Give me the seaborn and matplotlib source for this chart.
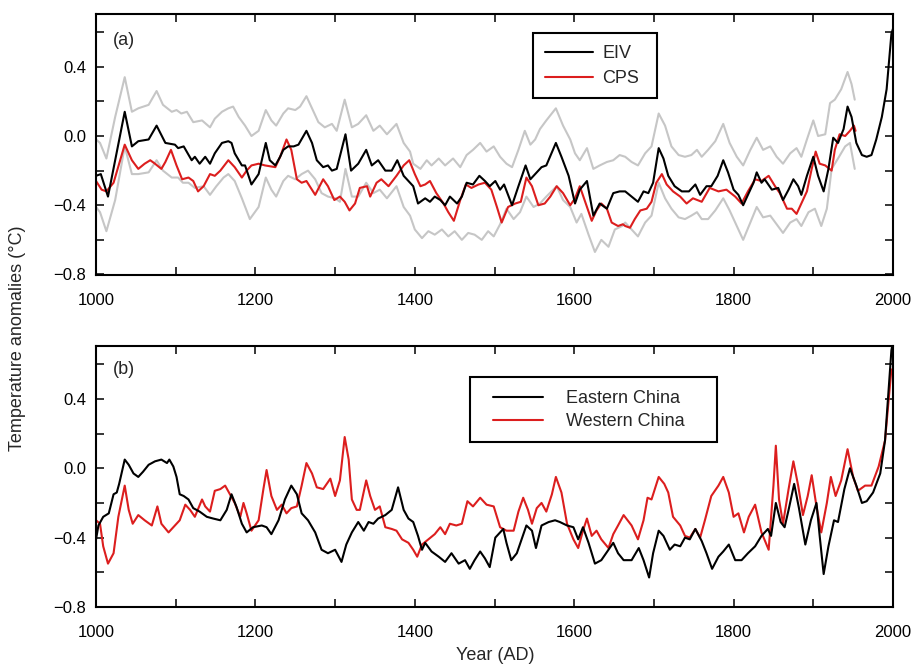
import matplotlib
matplotlib.use("Agg")
import matplotlib.pyplot as plt
from matplotlib.patches import Rectangle
from matplotlib.ticker import MultipleLocator, FixedLocator
import seaborn as sns
import pandas as pd

# ---------------- Panel (a) data ----------------
eiv_years = [1000,1006,1015,1036,1045,1053,1066,1076,1087,1099,1103,1110,1120,1124,1130,1137,1143,1149,1158,1166,
             1170,1174,1183,1187,1195,1204,1213,1218,1225,1231,1235,1241,1248,1254,1264,1271,1277,1285,1291,1296,
             1302,1313,1320,1329,
             1339,1346,1354,1363,1371,1378,1386,1394,1398,1404,1413,1419,1425,1432,1438,1444,1453,1459,1465,1473,
             1481,1488,1494,1501,1507,1512,1522,1530,1539,1545,1551,1559,1565,1577,1584,1593,1601,1607,1616,1624,
             1632,1641,1649,1657,
             1664,1672,1680,1687,1693,1699,1706,1712,1718,1726,1735,1744,1752,1758,1766,1772,1780,1787,1793,1800,
             1806,1812,1818,1825,1829,1835,1839,1848,1856,1862,1869,1875,1881,1885,1892,1900,1906,1913,1919,1925,
             1931,1938,1943,1948,1954,1961,1967,1973,1979,1986,1992,1998,2000]
eiv_vals = [-0.23,-0.22,-0.35,0.14,-0.06,-0.03,-0.02,0.06,-0.04,-0.05,-0.07,-0.06,-0.14,-0.12,-0.16,-0.12,-0.16,-0.10,-0.04,-0.03,
            -0.04,-0.10,-0.17,-0.17,-0.28,-0.22,-0.04,-0.14,-0.17,-0.12,-0.08,-0.06,-0.06,-0.05,0.03,-0.04,-0.14,-0.18,-0.17,-0.20,
            -0.19,0.01,-0.20,-0.16,
            -0.08,-0.17,-0.14,-0.20,-0.20,-0.14,-0.23,-0.27,-0.29,-0.39,-0.36,-0.38,-0.35,-0.37,-0.40,-0.35,-0.39,-0.35,-0.27,-0.28,
            -0.23,-0.26,-0.29,-0.26,-0.31,-0.28,-0.40,-0.29,-0.17,-0.25,-0.22,-0.18,-0.17,-0.04,-0.12,-0.23,-0.39,-0.31,-0.26,-0.46,
            -0.39,-0.42,-0.33,-0.32,
            -0.32,-0.35,-0.38,-0.32,-0.33,-0.27,-0.07,-0.13,-0.23,-0.29,-0.32,-0.32,-0.28,-0.34,-0.29,-0.29,-0.23,-0.14,-0.21,-0.31,
            -0.34,-0.40,-0.34,-0.27,-0.21,-0.27,-0.25,-0.31,-0.30,-0.37,-0.31,-0.25,-0.29,-0.34,-0.23,-0.12,-0.23,-0.32,-0.19,-0.01,
            -0.04,0.04,0.17,0.11,-0.04,-0.11,-0.12,-0.11,-0.02,0.11,0.27,0.59,0.62]

cps_years = [1000,1007,1013,1022,1036,1045,1053,1061,1068,1074,1082,1087,1094,1101,1108,1116,1122,1128,1135,1143,
             1149,1156,1166,1174,1183,1189,1195,1204,1212,1225,1231,1239,1245,1252,1258,1264,1275,1285,1291,1299,
             1306,1312,1318,1325,
             1331,1340,1344,1352,1358,1367,1377,1386,1393,1400,1407,1413,1419,1427,1436,1442,1449,1457,1464,1471,
             1480,1488,1496,1503,1509,1517,1526,1533,1540,1547,1555,1563,1570,1578,1586,1595,1601,1607,1613,1622,
             1628,1634,1641,1647,1655,1661,
             1664,1670,1676,1683,1691,1697,1703,1710,1716,1724,1733,1741,1749,1760,1770,1781,1791,1802,1810,1818,
             1827,1835,1844,1852,1858,1867,1873,1879,1885,1892,1898,1903,1908,1915,1923,1927,1933,1940,1946,1951,
             1953]
cps_vals = [-0.26,-0.31,-0.32,-0.27,-0.05,-0.14,-0.19,-0.16,-0.14,-0.16,-0.19,-0.15,-0.08,-0.17,-0.25,-0.24,-0.26,-0.32,-0.29,-0.22,
            -0.23,-0.20,-0.14,-0.18,-0.24,-0.20,-0.17,-0.16,-0.17,-0.18,-0.12,-0.02,-0.08,-0.25,-0.27,-0.26,-0.34,-0.25,-0.29,-0.37,
            -0.35,-0.38,-0.43,-0.39,
            -0.30,-0.29,-0.35,-0.27,-0.25,-0.29,-0.23,-0.17,-0.14,-0.22,-0.29,-0.28,-0.26,-0.33,-0.39,-0.44,-0.49,-0.37,-0.28,-0.30,
            -0.28,-0.27,-0.31,-0.41,-0.50,-0.41,-0.39,-0.38,-0.24,-0.29,-0.40,-0.39,-0.35,-0.29,-0.33,-0.40,-0.36,-0.29,-0.37,-0.49,
            -0.43,-0.39,-0.42,-0.50,-0.52,-0.51,
            -0.52,-0.53,-0.48,-0.43,-0.42,-0.38,-0.27,-0.22,-0.28,-0.32,-0.35,-0.39,-0.36,-0.38,-0.30,-0.32,-0.31,-0.35,-0.39,-0.32,
            -0.25,-0.26,-0.23,-0.29,-0.33,-0.42,-0.42,-0.45,-0.39,-0.32,-0.19,-0.09,-0.16,-0.17,-0.20,-0.08,0.01,0.00,0.03,0.06,
            0.03]

upper_years = [1000,1005,1013,1024,1036,1045,1053,1066,1076,1084,1095,1101,1107,1114,1122,1133,1143,1149,1158,1166,
               1172,1179,1187,1195,1204,1213,1220,1226,1235,1241,1250,1256,1264,1271,1279,1287,1296,1302,1312,1321,
               1329,
               1339,1348,1356,1365,1377,1386,1394,1398,1407,1415,1421,1430,1438,1448,1457,1465,1473,1482,1490,1499,
               1507,1515,1522,1530,1538,1545,1551,1557,1565,1577,1586,1595,1601,1607,1616,1624,1632,1641,1649,1657,
               1664,1672,1680,1689,1697,1706,1714,1722,1731,1739,1747,1754,1760,1768,1777,1787,1795,1804,1812,1821,
               1829,1837,1846,1854,1862,1871,1879,1885,1892,1900,1906,1915,1921,1927,1935,1943,1948,1952]
upper_vals = [-0.02,-0.04,-0.13,0.11,0.34,0.14,0.16,0.18,0.26,0.18,0.14,0.15,0.13,0.14,0.08,0.09,0.05,0.10,0.14,0.16,
              0.17,0.11,0.06,0.00,0.03,0.15,0.09,0.06,0.13,0.16,0.15,0.17,0.23,0.16,0.08,0.05,0.07,0.03,0.21,0.05,
              0.07,
              0.12,0.03,0.06,0.01,0.07,-0.04,-0.09,-0.16,-0.19,-0.14,-0.17,-0.13,-0.17,-0.13,-0.18,-0.11,-0.08,-0.04,-0.09,-0.06,
              -0.12,-0.16,-0.18,-0.08,0.03,-0.05,-0.02,0.04,0.09,0.16,0.06,-0.02,-0.10,-0.14,-0.07,-0.19,-0.17,-0.15,-0.14,-0.11,
              -0.12,-0.15,-0.17,-0.10,-0.06,0.13,0.06,-0.06,-0.11,-0.12,-0.11,-0.08,-0.12,-0.08,-0.03,0.07,-0.04,-0.12,-0.17,-0.08,
              -0.01,-0.08,-0.06,-0.12,-0.16,-0.10,-0.07,-0.12,-0.02,0.09,0.00,0.01,0.19,0.21,0.27,0.37,0.30,0.21]

lower_years = [1000,1005,1013,1024,1036,1045,1053,1066,1076,1084,1095,1103,1109,1116,1124,1135,1143,1151,1160,1166,
               1174,1183,1193,1204,1213,1220,1226,1235,1241,1250,1258,1266,1275,1283,1291,1300,1306,1313,1321,1329,
               1339,1348,1356,1365,1377,1386,1394,1400,1409,1417,1425,1434,1442,1450,1459,1467,1475,1484,1492,1499,
               1507,1515,1524,1532,1540,1549,1557,1565,1578,1586,1595,1603,1609,1618,1626,1634,1643,1651,1660,
               1664,1672,1680,1689,1697,1706,1714,1722,1731,1739,1747,1754,1760,1768,1777,1787,1795,1804,1812,1821,
               1829,1837,1846,1854,1862,1871,1879,1885,1894,1902,1910,1917,1923,1931,1940,1946,1952]
lower_vals = [-0.41,-0.44,-0.55,-0.37,-0.06,-0.22,-0.22,-0.21,-0.14,-0.20,-0.24,-0.24,-0.27,-0.27,-0.30,-0.29,-0.34,-0.29,-0.24,-0.22,
              -0.26,-0.36,-0.48,-0.41,-0.24,-0.31,-0.35,-0.26,-0.23,-0.25,-0.22,-0.20,-0.25,-0.33,-0.35,-0.36,-0.38,-0.19,-0.35,-0.35,
              -0.27,-0.33,-0.31,-0.36,-0.29,-0.41,-0.46,-0.54,-0.59,-0.55,-0.57,-0.54,-0.58,-0.55,-0.60,-0.56,-0.57,-0.60,-0.55,-0.58,
              -0.51,-0.42,-0.48,-0.44,-0.35,-0.41,-0.39,-0.35,-0.29,-0.37,-0.41,-0.50,-0.45,-0.57,-0.67,-0.60,-0.64,-0.54,-0.52,
              -0.50,-0.54,-0.58,-0.50,-0.46,-0.27,-0.36,-0.42,-0.47,-0.48,-0.46,-0.44,-0.48,-0.48,-0.43,-0.36,-0.43,-0.52,-0.60,-0.50,
              -0.41,-0.47,-0.46,-0.51,-0.56,-0.50,-0.48,-0.52,-0.44,-0.42,-0.52,-0.42,-0.19,-0.13,-0.06,-0.04,-0.19]

# ---------------- Panel (b) data ----------------
east_years = [1000,1003,1009,1016,1022,1026,1029,1036,1041,1047,1053,1059,1066,1074,1082,1089,1092,1097,1101,1105,
              1110,1116,1122,1130,1139,1147,1156,1164,1170,1176,1183,1189,1197,1208,1214,1220,1229,1237,1245,1252,
              1258,1266,1275,1283,1291,1300,1308,1314,1321,1329,
              1336,1342,1348,1354,1363,1371,1379,1386,1392,1398,1404,1409,1413,1421,1430,1438,1446,1455,1463,1469,
              1475,1482,1488,1494,1501,1507,1511,1515,1521,1528,1534,1540,1547,1552,1559,1568,1576,1582,1591,1599,
              1605,1611,1618,1626,1634,1643,1649,1655,1662,
              1672,1681,1687,1694,1699,1706,1712,1720,1726,1733,1739,1745,1752,1760,1766,1773,1781,1787,1794,1802,
              1810,1818,1827,1835,1843,1847,1853,1859,1864,1869,1876,1882,1890,1897,1904,1908,1913,1919,1926,1931,
              1939,1946,1954,1961,1967,1975,1984,1990,1996,1998,2000]
east_vals = [-0.41,-0.33,-0.28,-0.26,-0.15,-0.14,-0.09,0.05,0.02,-0.03,-0.05,-0.02,0.02,0.04,0.05,0.03,0.05,0.01,-0.05,-0.15,
             -0.16,-0.18,-0.23,-0.25,-0.28,-0.29,-0.30,-0.24,-0.15,-0.22,-0.32,-0.37,-0.34,-0.33,-0.34,-0.38,-0.30,-0.18,-0.10,-0.15,
             -0.26,-0.30,-0.37,-0.47,-0.49,-0.47,-0.54,-0.44,-0.37,-0.31,
             -0.36,-0.31,-0.32,-0.29,-0.27,-0.24,-0.11,-0.24,-0.29,-0.31,-0.39,-0.47,-0.43,-0.48,-0.51,-0.54,-0.49,-0.55,-0.53,-0.58,
             -0.53,-0.48,-0.52,-0.57,-0.40,-0.37,-0.35,-0.43,-0.53,-0.49,-0.41,-0.33,-0.36,-0.46,-0.33,-0.31,-0.30,-0.31,-0.33,-0.34,
             -0.41,-0.34,-0.43,-0.55,-0.53,-0.47,-0.43,-0.49,-0.53,
             -0.53,-0.46,-0.53,-0.63,-0.49,-0.36,-0.39,-0.47,-0.44,-0.45,-0.40,-0.41,-0.35,-0.42,-0.49,-0.58,-0.51,-0.48,-0.44,-0.53,
             -0.53,-0.49,-0.45,-0.39,-0.35,-0.39,-0.20,-0.31,-0.34,-0.24,-0.09,-0.23,-0.44,-0.30,-0.20,-0.39,-0.61,-0.45,-0.30,-0.31,
             -0.12,0.00,-0.10,-0.20,-0.19,-0.14,-0.03,0.16,0.55,0.68,0.73]

west_years = [1000,1005,1009,1015,1022,1028,1036,1041,1046,1053,1061,1070,1077,1082,1091,1099,1105,1112,1118,1124,
              1133,1137,1143,1149,1156,1162,1168,1174,1181,1185,1189,1195,1204,1210,1214,1220,1227,1233,1239,1245,
              1252,1258,1264,1271,1277,1285,1294,1300,1306,1312,1317,1321,1327,1331,
              1339,1344,1350,1356,1363,1371,1377,1384,1392,1398,1403,1409,1417,1425,1432,1438,1444,1452,1459,1466,
              1473,1482,1490,1499,1507,1515,1524,1530,1536,1542,1547,1553,1559,1565,1572,1577,1584,1591,1599,1605,
              1611,1616,1622,1628,1634,1643,1649,1655,1662,
              1672,1680,1687,1692,1697,1706,1713,1718,1724,1733,1739,1745,1752,1758,1764,1772,1781,1787,1794,1800,
              1806,1813,1819,1827,1835,1844,1850,1853,1857,1862,1869,1875,1881,1887,1893,1898,1904,1910,1917,1922,
              1928,1935,1943,1950,1956,1965,1973,1982,1990,1998]
west_vals = [-0.30,-0.32,-0.45,-0.55,-0.49,-0.28,-0.10,-0.24,-0.32,-0.27,-0.30,-0.33,-0.22,-0.32,-0.37,-0.33,-0.30,-0.21,-0.24,-0.28,
             -0.18,-0.22,-0.25,-0.13,-0.12,-0.10,-0.15,-0.20,-0.28,-0.20,-0.26,-0.36,-0.30,-0.12,-0.01,-0.16,-0.24,-0.21,-0.26,-0.23,
             -0.22,-0.10,0.03,-0.03,-0.11,-0.12,-0.06,-0.16,-0.07,0.18,0.05,-0.18,-0.24,-0.24,
             -0.07,-0.16,-0.24,-0.22,-0.34,-0.35,-0.36,-0.41,-0.43,-0.47,-0.51,-0.44,-0.41,-0.38,-0.34,-0.38,-0.32,-0.33,-0.32,-0.19,
             -0.22,-0.17,-0.21,-0.22,-0.34,-0.36,-0.36,-0.25,-0.17,-0.24,-0.32,-0.23,-0.20,-0.25,-0.15,-0.05,-0.14,-0.32,-0.41,-0.46,
             -0.36,-0.29,-0.39,-0.36,-0.41,-0.46,-0.38,-0.33,-0.27,
             -0.33,-0.41,-0.30,-0.17,-0.18,-0.05,-0.09,-0.14,-0.28,-0.33,-0.39,-0.40,-0.35,-0.40,-0.30,-0.16,-0.10,-0.05,-0.14,-0.28,
             -0.26,-0.37,-0.28,-0.21,-0.37,-0.47,-0.10,0.13,-0.18,-0.32,-0.12,0.04,-0.10,-0.27,-0.16,-0.04,-0.22,-0.37,-0.20,-0.05,
             -0.16,-0.07,0.11,-0.05,-0.13,-0.10,-0.10,0.01,0.16,0.57]

x_major = [1000, 1200, 1400, 1600, 1800, 2000]
y_major = [-0.8, -0.4, 0.0, 0.4]
y_minor = [-0.6, -0.2, 0.2, 0.6]

# ---------------- Styling ----------------
sns.set_style("ticks")
plt.rcParams["font.family"] = ["Liberation Sans", "DejaVu Sans"]
plt.rcParams["axes.linewidth"] = 1.5

RED = "#dc1e1e"
GREY = "#c6c6c6"

fig = plt.figure(figsize=(9.19, 6.66), dpi=100)
fig.patch.set_facecolor("white")
ax1 = fig.add_axes([0.1045, 0.5871, 0.8672, 0.3919])
ax2 = fig.add_axes([0.1045, 0.0886, 0.8672, 0.3919])


def series(years, vals):
    return pd.DataFrame({"year": years, "value": vals})


lw = 1.5
sns.lineplot(data=series(upper_years, upper_vals), x="year", y="value", ax=ax1, color=GREY, lw=lw, estimator=None)
sns.lineplot(data=series(lower_years, lower_vals), x="year", y="value", ax=ax1, color=GREY, lw=lw, estimator=None)
sns.lineplot(data=series(cps_years, cps_vals), x="year", y="value", ax=ax1, color=RED, lw=lw, estimator=None, label="CPS")
sns.lineplot(data=series(eiv_years, eiv_vals), x="year", y="value", ax=ax1, color="black", lw=lw, estimator=None, label="EIV")

sns.lineplot(data=series(west_years, west_vals), x="year", y="value", ax=ax2, color=RED, lw=lw, estimator=None, label="Western China")
sns.lineplot(data=series(east_years, east_vals), x="year", y="value", ax=ax2, color="black", lw=lw, estimator=None, label="Eastern China")

for ax, ylo in ((ax1, -0.803), (ax2, -0.80)):
    ax.set_xlim(1000, 2000)
    ax.set_ylim(ylo, 0.705)
    ax.xaxis.set_major_locator(FixedLocator(x_major))
    ax.xaxis.set_minor_locator(MultipleLocator(100))
    ax.yaxis.set_major_locator(FixedLocator(y_major))
    ax.yaxis.set_minor_locator(FixedLocator(y_minor))
    ax.tick_params(which="both", direction="in", top=True, right=True, length=6, width=1.1, colors="black")
    ax.tick_params(axis="x", which="major", labelsize=12, pad=13)
    ax.tick_params(axis="y", which="major", labelsize=12, pad=7)
    ax.set_xlabel("")
    ax.set_ylabel("")
    for sp in ax.spines.values():
        sp.set_visible(True)
        sp.set_linewidth(1.5)
        sp.set_color("black")
    ax.set_facecolor("white")

ax1.text(0.021, 0.90, "(a)", transform=ax1.transAxes, fontsize=13, va="center", ha="left")
ax2.text(0.021, 0.908, "(b)", transform=ax2.transAxes, fontsize=13, va="center", ha="left")


def boxed_legend(ax, order, rect, anchor, hl, htp, ls):
    h, l = ax.get_legend_handles_labels()
    d = dict(zip(l, h))
    x0, y0, x1, y1 = rect
    ax.add_patch(Rectangle((x0, y0), x1 - x0, y1 - y0, transform=ax.transAxes,
                           facecolor="white", edgecolor="black", lw=1.5, zorder=5))
    leg = ax.legend([d[k] for k in order], order, loc="center left", bbox_to_anchor=anchor,
                    frameon=False, fontsize=13, handlelength=hl, handletextpad=htp,
                    labelspacing=ls, borderpad=0, borderaxespad=0)
    leg.set_zorder(6)


boxed_legend(ax1, ["EIV", "CPS"], (0.5483, 0.6782, 0.7039, 0.9272), (0.5634, 0.8008), 2.67, 0.5, 0.44)
boxed_legend(ax2, ["Eastern China", "Western China"], (0.4693, 0.6322, 0.7792, 0.8812), (0.4981, 0.7548), 2.78, 1.28, 0.33)

fig.text(18 / 919, 1 - 338 / 666, "Temperature anomalies (°C)", rotation=90, fontsize=13,
         ha="center", va="center")
fig.text(495 / 919, 1 - 655 / 666, "Year (AD)", fontsize=13, ha="center", va="center")

fig.savefig("out.png", dpi=100, facecolor="white")
